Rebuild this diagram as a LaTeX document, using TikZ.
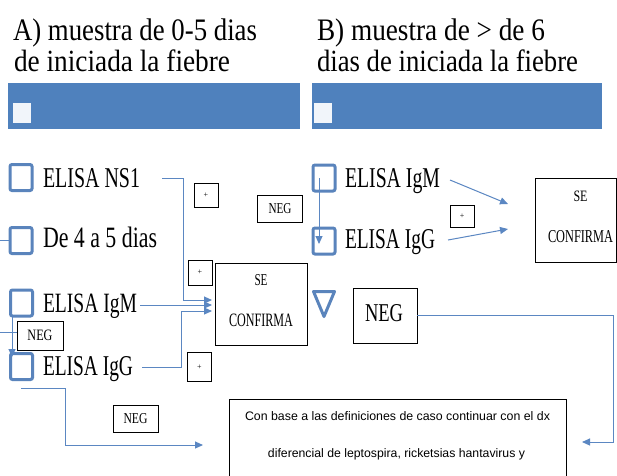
\documentclass[tikz,border=0pt]{standalone}
\usepackage{fontspec}
\setmainfont{Liberation Serif}
\newfontfamily\arialf{Liberation Sans}
\usetikzlibrary{arrows.meta}
\definecolor{barblue}{HTML}{4F81BD}
\definecolor{sqblue}{HTML}{5A84BC}
\definecolor{lnblue}{HTML}{5B87C2}
\newcommand{\rz}[3]{\resizebox{#1pt}{#2pt}{#3}}
\tikzset{
  txt/.style={anchor=base west, inner sep=0pt, outer sep=0pt},
  sq/.style={draw=sqblue, line width=3pt, rounded corners=2pt, fill=white, minimum width=22pt, minimum height=26pt, inner sep=0pt},
  bar/.style={fill=barblue, draw=none, minimum height=46pt, inner sep=0pt, anchor=north west},
  wsq/.style={fill=white!92!barblue, draw=none, minimum width=18pt, minimum height=20pt, inner sep=0pt},
  box/.style={draw=black, line width=0.8pt, fill=white, inner sep=0pt},
  conn/.style={draw=lnblue, line width=1pt},
  arr/.style={conn, -{Triangle[length=8pt, width=7pt]}},
}
\begin{document}
\begin{tikzpicture}[x=1pt, y=-1pt]
\useasboundingbox (0,0) rectangle (617,475);
\fill[white] (0,0) rectangle (617,475);

% titles
\node[txt] (ta1) at (13,40) {\rz{244}{21.7}{A) muestra de 0-5 dias}};
\node[txt] (ta2) at (14,71) {\rz{216}{21.7}{de iniciada la fiebre}};
\node[txt] (tb1) at (317,40) {\rz{228}{21.7}{B) muestra de > de 6}};
\node[txt] (tb2) at (317,71) {\rz{261}{21.7}{dias de iniciada la fiebre}};

% bars
\node[bar, minimum width=292pt] (barA) at (8,83) {};
\node[bar, minimum width=290pt] (barB) at (312,83) {};
\node[wsq] (wa) at (21.5,113) {};
\node[wsq] (wb) at (323,113) {};

% column A squares
\node[sq] (a1) at (21,177.5) {};
\node[sq] (a2) at (21,240.5) {};
\node[sq] (a3) at (21.5,303) {};
\node[sq] (a4) at (21.5,366.5) {};

\node[txt] (la1) at (43,187) {\rz{97}{19}{ELISA NS1}};
\node[txt] (la2) at (43,247) {\rz{114}{20.5}{De 4 a 5 dias}};
\node[txt] (la3) at (43,312) {\rz{94}{18.5}{ELISA IgM}};
\node[txt] (la4) at (43,375) {\rz{90}{19}{ELISA IgG}};

% small boxes A
\node[box, minimum width=24pt, minimum height=24pt] (pa1) at (206,195) {\fontsize{8}{8}\selectfont +};
\node[box, minimum width=45pt, minimum height=27pt] (nga1) at (280,209) {\rz{23}{10}{NEG}};
\node[box, minimum width=24pt, minimum height=25pt] (pa2) at (200,272.5) {\fontsize{8}{8}\selectfont +};
\node[box, minimum width=24pt, minimum height=29pt] (pa3) at (199.5,367) {\fontsize{8}{8}\selectfont +};
\node[box, minimum width=46pt, minimum height=29pt] (nga2) at (40,335.5) {\rz{25}{10.5}{NEG}};
\node[box, minimum width=45pt, minimum height=27pt] (nga3) at (135.5,418.5) {\rz{24}{10}{NEG}};

\node[box, minimum width=92pt, minimum height=82pt] (sea) at (261,304) {};
\node[txt] (sea1) at (254.5,285) {\rz{13}{11}{SE}};
\node[txt] (sea2) at (229,326) {\rz{64}{12.5}{CONFIRMA}};

% column B
\node[sq] (b1) at (324,178) {};
\node[sq] (b2) at (324,241) {};
\node[txt] (lb1) at (345,187) {\rz{95}{19}{ELISA IgM}};
\node[txt] (lb2) at (345,248) {\rz{90}{19}{ELISA IgG}};
\node[box, minimum width=24pt, minimum height=22pt] (pb1) at (462,216) {\fontsize{8}{8}\selectfont +};
\node[box, minimum width=81pt, minimum height=84pt] (seb) at (575.5,220) {};
\node[txt] (seb1) at (573.5,201) {\rz{14}{10.5}{SE}};
\node[txt] (seb2) at (548,242) {\rz{65}{12}{CONFIRMA}};

\draw[draw=sqblue, line width=3pt, line join=round] (313.5,291.5) -- (334.5,291.5) -- (324,316.5) -- cycle;
\coordinate (tri) at (324,304);
\node[box, minimum width=64pt, minimum height=55pt] (ngb) at (385,315.5) {};
\node[txt] (ngbt) at (365,321) {\rz{38}{17}{NEG}};

% bottom box
\node[draw=none, inner sep=0pt, minimum width=337pt, minimum height=77pt, anchor=north west] (base) at (229,399) {};
\draw[line width=0.8pt] (base.south west) -- (base.north west) -- (base.north east) -- (base.south east);
\node[anchor=base, inner sep=0pt] (bt1) at (397.5,420) {\arialf\resizebox{305pt}{!}{Con base a las definiciones de caso continuar con el dx}};
\node[anchor=base, inner sep=0pt] (bt2) at (396.5,457) {\arialf\resizebox{257pt}{!}{diferencial de leptospira, ricketsias hantavirus y}};

% connector coordinates
\coordinate (ns1s) at (162,178);
\coordinate (ns1b) at (183,178);
\coordinate (ns1c) at (183,300);
\coordinate (ns1e) at (212,300);
\coordinate (igms) at (140,305);
\coordinate (igme) at (212,305);
\coordinate (iggs) at (142,367);
\coordinate (iggb) at (181,367);
\coordinate (iggc) at (181,311);
\coordinate (igge) at (212,311);
\coordinate (l1) at (0,240.5);
\coordinate (l2) at (0,332);
\coordinate (v1s) at (12,317);
\coordinate (v1e) at (12,357);
\coordinate (bs) at (21,388);
\coordinate (bb) at (65,388);
\coordinate (bc) at (65,445);
\coordinate (be) at (203,445);
\coordinate (vbs) at (319,178);
\coordinate (vbe) at (319,244);
\coordinate (m1s) at (450,180);
\coordinate (m1e) at (508,204);
\coordinate (m2s) at (448,240);
\coordinate (m2e) at (508,229);
\coordinate (ns) at (ngb.east |- 0,315);
\coordinate (nb) at (613,315);
\coordinate (nc) at (613,442);
\coordinate (ne) at (582,442);

% connectors
\draw[conn] (l1) -- (a2.west);
\draw[conn] (l2) -- (nga2.west |- l2);
\draw[arr] (ns1s) -- (ns1b) -- (ns1c) -- (ns1e);
\draw[arr] (igms) -- (igme);
\draw[arr] (iggs) -- (iggb) -- (iggc) -- (igge);
\draw[arr] (v1s) -- (v1e);
\draw[arr] (bs) -- (bb) -- (bc) -- (be);
\draw[arr] (vbs) -- (vbe);
\draw[arr] (m1s) -- (m1e);
\draw[arr] (m2s) -- (m2e);
\draw[arr] (ns) -- (nb) -- (nc) -- (ne);
\end{tikzpicture}
\end{document}
